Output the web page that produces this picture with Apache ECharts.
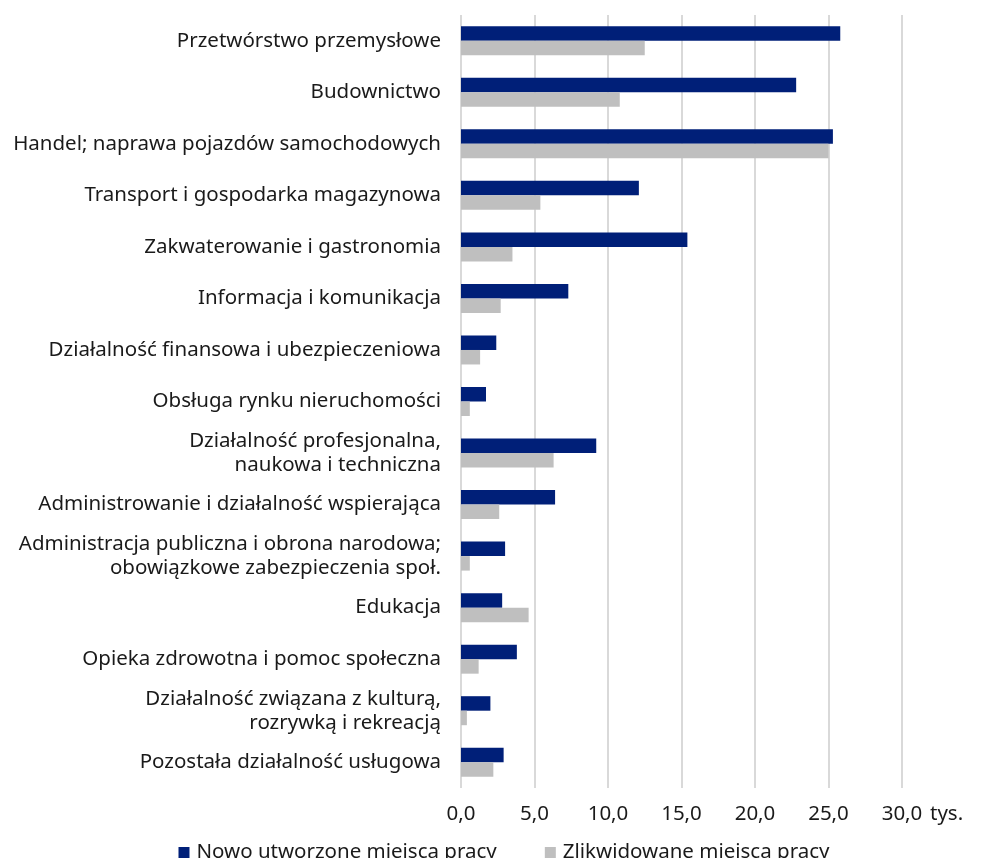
<!DOCTYPE html>
<html><head><meta charset="utf-8">
<script src="https://cdn.jsdelivr.net/npm/echarts@6/dist/echarts.min.js"></script>
<style>html,body{margin:0;padding:0;background:#fff}#c{width:1008px;height:858px}</style>
</head><body><div id="c"></div>
<script>
const categories = [
  'Przetwórstwo przemysłowe',
  'Budownictwo',
  'Handel; naprawa pojazdów samochodowych',
  'Transport i gospodarka magazynowa',
  'Zakwaterowanie i gastronomia',
  'Informacja i komunikacja',
  'Działalność finansowa i ubezpieczeniowa',
  'Obsługa rynku nieruchomości',
  'Działalność profesjonalna,\nnaukowa i techniczna',
  'Administrowanie i działalność wspierająca',
  'Administracja publiczna i obrona narodowa;\nobowiązkowe zabezpieczenia społ.',
  'Edukacja',
  'Opieka zdrowotna i pomoc społeczna',
  'Działalność związana z kulturą,\nrozrywką i rekreacją',
  'Pozostała działalność usługowa'
];
const seriesNames = ['Nowo utworzone miejsca pracy', 'Zlikwidowane miejsca pracy'];
const created = [25.8, 22.8, 25.3, 12.1, 15.4, 7.3, 2.4, 1.7, 9.2, 6.4, 3.0, 2.8, 3.8, 2.0, 2.9];
const liquidated = [12.5, 10.8, 25.0, 5.4, 3.5, 2.7, 1.3, 0.6, 6.3, 2.6, 0.6, 4.6, 1.2, 0.4, 2.2];
const unitLabel = 'tys.';

const FONT = 'Noto Sans';
const FS = 20.5;
const chart = echarts.init(document.getElementById('c'), null, {renderer: 'canvas'});
chart.setOption({
  animation: false,
  textStyle: {fontFamily: FONT},
  grid: {left: 461, right: 106, top: 15, bottom: 70, containLabel: false},
  legend: {
    bottom: -10, left: 'center',
    itemWidth: 11, itemHeight: 11, itemGap: 48,
    icon: 'rect',
    textStyle: {fontFamily: FONT, fontSize: FS, color: '#1a1a1a', padding: [0,0,0,2]},
    data: seriesNames
  },
  xAxis: {
    type: 'value', min: 0, max: 30, interval: 5,
    name: unitLabel, nameLocation: 'end', nameGap: 28,
    nameTextStyle: {fontFamily: FONT, fontSize: FS, color: '#1a1a1a', verticalAlign: 'top', padding: [16,0,0,0]},
    axisLine: {show: false}, axisTick: {show: false},
    axisLabel: {fontFamily: FONT, fontSize: FS, color: '#1a1a1a', margin: 16,
      formatter: v => v.toFixed(1).replace('.', ',')},
    splitLine: {show: true, lineStyle: {color: '#d9d9d9', width: 2}}
  },
  yAxis: {
    type: 'category', data: categories, inverse: true,
    axisLine: {show: false}, axisTick: {show: false},
    axisLabel: {fontFamily: FONT, fontSize: FS, color: '#1a1a1a', margin: 20, lineHeight: 24, align: 'right'}
  },
  series: [
    {name: seriesNames[0], type: 'bar', data: created, barWidth: 14.5, barGap: '0%',
     itemStyle: {color: '#001f78'}},
    {name: seriesNames[1], type: 'bar', data: liquidated, barWidth: 14.5, barGap: '0%',
     itemStyle: {color: '#bfbfbf'}}
  ]
});
</script></body></html>
